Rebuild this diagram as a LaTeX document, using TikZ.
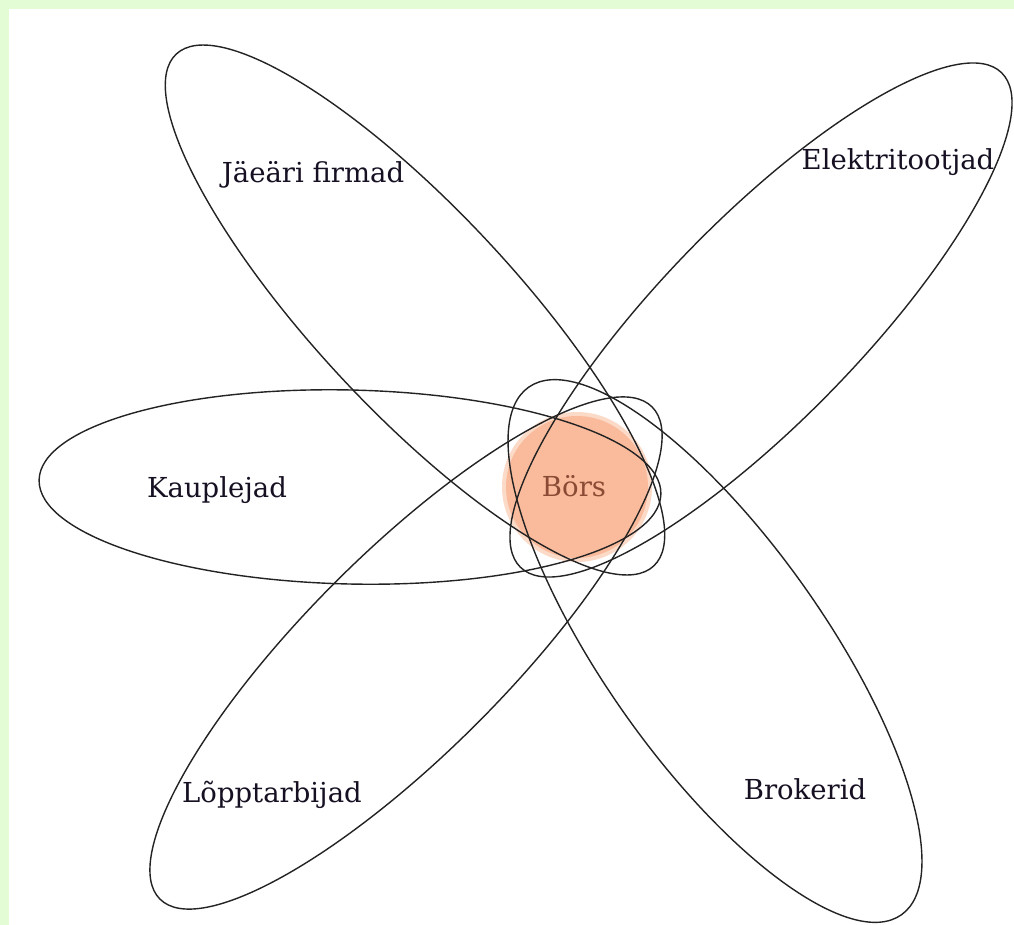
\documentclass[tikz,border=0pt]{standalone}
\usepackage{fontspec}
\setmainfont{DejaVu Serif}
\definecolor{bggreen}{RGB}{228,252,214}
\definecolor{peach}{RGB}{249,187,156}
\definecolor{borscol}{RGB}{138,75,53}
\definecolor{linecol}{RGB}{35,35,35}
\definecolor{txtcol}{RGB}{22,16,34}
\tikzset{
  petal/.style={draw=linecol, line width=1.4pt},
  lbl/.style={font=\fontsize{27.5}{31}\selectfont, text=txtcol, inner sep=0pt, anchor=base},
}
\begin{document}
\begin{tikzpicture}[x=1pt,y=-1pt]
\useasboundingbox (0,0) rectangle (1014,925);
\fill[bggreen] (0,0) rectangle (1014,925);
\fill[white] (9,9) rectangle (1014,925);
% centre
\fill[peach!55] (577,487) circle[radius=75pt];
\fill[peach] (577,487) circle[radius=71pt];
% petals
\draw[petal, rotate around={-1.3:(350,487)}] (350,487) ellipse[x radius=311pt, y radius=97pt];
\draw[petal, rotate around={-47:(415,310)}] (415,310) ellipse[x radius=350pt, y radius=100pt];
\draw[petal, rotate around={45.8:(761,320)}] (761,320) ellipse[x radius=345pt, y radius=100pt];
\draw[petal, rotate around={45:(406,653)}] (406,653) ellipse[x radius=348pt, y radius=100pt];
\draw[petal, rotate around={-54.75:(715,651)}] (715,651) ellipse[x radius=323pt, y radius=110pt];
% labels
\node[lbl] (jaeari) at (313,183) {Jäeäri firmad};
\node[lbl] (elektri) at (898,170) {Elektritootjad};
\node[lbl] (kaupl) at (217,497) {Kauplejad};
\node[lbl] (loppt) at (272,802) {Lõpptarbijad};
\node[lbl] (brok) at (805,799) {Brokerid};
\node[lbl, text=borscol] (bors) at (574,496) {Börs};
\end{tikzpicture}
\end{document}
